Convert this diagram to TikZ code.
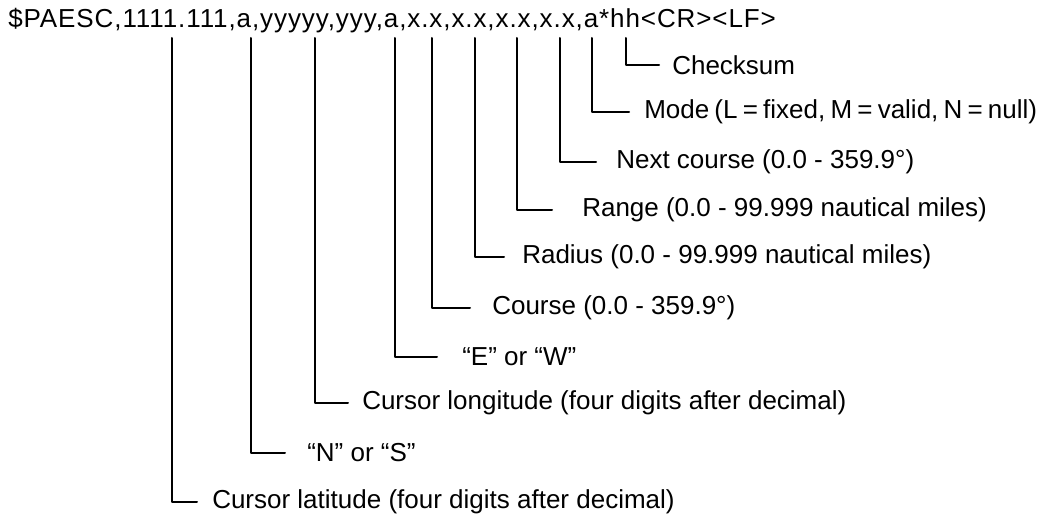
\documentclass[tikz,border=0pt]{standalone}
\usepackage{fontspec}
\setmainfont{Liberation Sans}
\newfontfamily\hdrfont[LetterSpace=3.5]{Liberation Sans}
\begin{document}
\begin{tikzpicture}[x=0.75pt,y=-0.75pt,line join=round,line cap=round,font=\fontsize{19.5}{22}\selectfont]
	\tikzset{lbl/.style={anchor=west,inner sep=0pt}, lead/.style={line width=1.5pt}}
	\useasboundingbox (0,0) rectangle (1060,516);
	\node[anchor=base west,inner sep=0pt,font=\fontsize{19.5}{22}\hdrfont] (hdr) at (8,28) {\$PAESC,1111.111,a,yyyyy,yyy,a,x.x,x.x,x.x,x.x,a*hh<CR><LF>};
	% top ends of the leads
	\coordinate (lat) at (172,38); \coordinate (ns) at (251,38);
	\coordinate (lon) at (315,38); \coordinate (ew) at (395,38);
	\coordinate (crs) at (432,38); \coordinate (rad) at (475,38);
	\coordinate (rng) at (517,38); \coordinate (nxt) at (560,38);
	\coordinate (mode) at (592,38); \coordinate (chk) at (626,38);
	% labels
	\node[lbl] (latl) at (212,502) {Cursor latitude (four digits after decimal)};
	\node[lbl] (nsl) at (307,453) {“N” or “S”};
	\node[lbl] (lonl) at (362,403) {Cursor longitude (four digits after decimal)};
	\node[lbl] (ewl) at (462,357) {“E” or “W”};
	\node[lbl] (crsl) at (492,308) {Course (0.0 - 359.9°)};
	\node[lbl] (radl) at (522,257) {Radius (0.0 - 99.999 nautical miles)};
	\node[lbl] (rngl) at (582,210) {Range (0.0 - 99.999 nautical miles)};
	\node[lbl] (nxtl) at (616,162) {Next course (0.0 - 359.9°)};
	\node[lbl] (model) at (644,112) {\spaceskip=0.2em Mode (L = fixed, M = valid, N = null)};
	\node[lbl] (chkl) at (672,65) {Checksum};
	% leads
	\draw[lead] (lat) |- ([xshift=-15*0.75pt]latl.west);
	\draw[lead] (ns) |- ([xshift=-22*0.75pt]nsl.west);
	\draw[lead] (lon) |- ([xshift=-14*0.75pt]lonl.west);
	\draw[lead] (ew) |- ([xshift=-25*0.75pt]ewl.west);
	\draw[lead] (crs) |- ([xshift=-22*0.75pt]crsl.west);
	\draw[lead] (rad) |- ([xshift=-18*0.75pt]radl.west);
	\draw[lead] (rng) |- ([xshift=-30*0.75pt]rngl.west);
	\draw[lead] (nxt) |- ([xshift=-20*0.75pt]nxtl.west);
	\draw[lead] (mode) |- ([xshift=-15*0.75pt]model.west);
	\draw[lead] (chk) |- ([xshift=-13*0.75pt]chkl.west);
\end{tikzpicture}
\end{document}
